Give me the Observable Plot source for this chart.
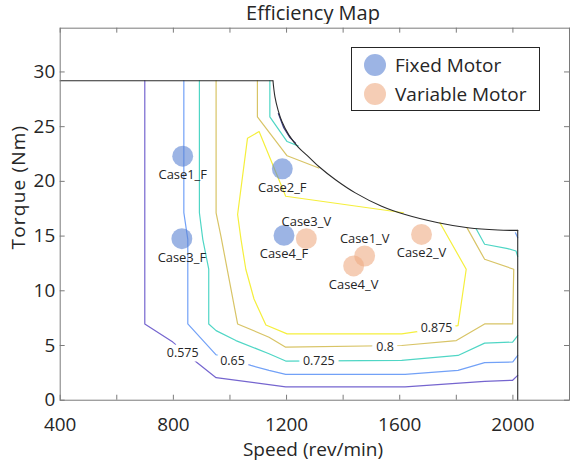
<!DOCTYPE html>
<html><head><meta charset="utf-8">
<script src="https://cdn.jsdelivr.net/npm/d3@7"></script>
<script src="https://cdn.jsdelivr.net/npm/@observablehq/plot@0.6"></script>
<style>
html,body{margin:0;padding:0;background:#fff;overflow:hidden;}
body{font-family:"Open Sans",sans-serif;color:#262626;}
#wrap{position:relative;width:571px;height:461px;overflow:hidden;}
#title{height:24px;line-height:26px;text-align:center;width:626px;font-size:20px;white-space:nowrap;}
#chart{position:relative;}
#xlabel{position:absolute;left:213px;width:200px;top:440px;text-align:center;font-size:19px;line-height:18px;white-space:nowrap;}
#ylabel{position:absolute;left:-82px;top:176px;width:200px;text-align:center;font-size:19px;line-height:22px;letter-spacing:1.2px;transform:rotate(-90deg);white-space:nowrap;}
#legend{position:absolute;left:351px;top:47px;width:187px;height:62px;border:1px solid #262626;background:#fff;}
#legend .dot{position:absolute;left:12px;width:22px;height:22px;border-radius:50%;}
#legend .lab{position:absolute;left:43px;font-size:19px;line-height:22px;white-space:nowrap;}
</style></head>
<body>
<div id="wrap">
<div id="title">Efficiency Map</div>
<div id="chart"></div>
<div id="xlabel">Speed (rev/min)</div>
<div id="ylabel">Torque (Nm)</div>
<div id="legend"></div>
</div>
<script>
// ---- tick values ----
const xTicks = [400, 600, 800, 1000, 1200, 1400, 1600, 1800, 2000, 2200];
const xTickLabels = [400, 800, 1200, 1600, 2000];
const yTicks = [0, 5, 10, 15, 20, 25, 30];

// ---- operating envelope (speed rev/min, torque Nm) ----
const envelopeTop = [[400, 29.2], [1152, 29.2]];
const envelopeArc = [[1152, 29.2], [1159, 27.73], [1170, 26.52], [1184, 25.45], [1208, 24.25], [1241, 23.13], [1279, 22.22], [1314, 21.36], [1373, 20.15], [1443, 18.95], [1536, 17.73], [1619, 16.97], [1736, 16.22], [1841, 15.76], [1947, 15.55], [2017, 15.52]];
const envelopeRight = [[2017, 15.52], [2017, 0]];

// ---- efficiency contours ----
const contourLevels = [0.5, 0.575, 0.65, 0.725, 0.8, 0.875];
const contour500 = [[1171, 26.2], [1190, 24.9], [1212, 24.0], [1232, 23.5]];
const contour575 = [[699, 29.2], [699, 6.97], [798, 5.31], [881, 3.49], [951, 2.06], [1197, 1.22], [1619, 1.22], [1900, 1.73], [1999, 1.82], [2017, 2.27]];
const contour650 = [[837, 29.2], [837, 17.15], [851, 14.7], [851, 6.97], [951, 4.15], [1074, 3.18], [1138, 2.73], [1197, 2.36], [1619, 2.36], [1806, 2.73], [1900, 3.43], [1999, 3.49], [2017, 4.09]];
const contour650b = [[2009, 15.3], [2017, 14.85]];
const contour725 = [[892, 29.2], [892, 17.13], [904, 14.7], [925, 11.97], [925, 6.97], [951, 6.36], [1021, 5.45], [1138, 4.25], [1197, 3.58], [1607, 3.64], [1806, 4.09], [1900, 5.22], [1999, 5.31], [2017, 5.91]];
const contour725b = [[1141, 29.2], [1141, 25.9], [1202, 23.64], [1241, 23.24]];
const contour725c = [[1870, 15.67], [1900, 14.25], [1982, 13.85], [2011, 13.64], [2017, 13.13]];
const contour800 = [[951, 29.2], [951, 17.13], [968, 15.0], [1027, 6.97], [1138, 5.76], [1197, 4.85], [1607, 5.0], [1800, 5.45], [1900, 6.97], [1999, 6.97], [2003, 11.97], [1900, 12.88], [1838, 15.75]];
const contour800b = [[1097, 29.2], [1097, 25.9], [1202, 22.34], [1314, 21.22]];
const contour875 = [[1613, 17.13], [1197, 18.64], [1103, 24.55], [1062, 23.95], [1027, 16.97], [1039, 14.7], [1056, 11.97], [1085, 9.25], [1127, 6.88], [1202, 6.06], [1607, 6.06], [1806, 6.82], [1835, 11.97], [1742, 16.22]];

// ---- contour labels ----
const labelLevels = [0.575, 0.65, 0.725, 0.8, 0.875];
const labelSpeed = [833, 1009, 1314, 1548, 1730];
const labelTorque = [4.31, 3.55, 3.55, 4.85, 6.58];

// ---- test cases ----
const fixedCases = ["Case1_F", "Case2_F", "Case3_F", "Case4_F"];
const fixedSpeed = [833, 1185, 830, 1191];
const fixedTorque = [22.3, 21.15, 14.76, 15.06];
const variableCases = ["Case1_V", "Case2_V", "Case3_V", "Case4_V"];
const variableSpeed = [1476, 1677, 1270, 1437];
const variableTorque = [13.18, 15.15, 14.76, 12.27];

const seriesNames = ["Fixed Motor", "Variable Motor"];

// ---- build tables ----
const contourSets = [
  [0.5, "a", contour500], [0.575, "b", contour575], [0.65, "c", contour650], [0.65, "d", contour650b],
  [0.725, "e", contour725], [0.725, "f", contour725b], [0.725, "g", contour725c],
  [0.8, "h", contour800], [0.8, "i", contour800b], [0.875, "j", contour875]
];
const contourRows = contourSets.flatMap(([level, seg, pts]) => pts.map(([s, t]) => ({level, seg, speed: s, torque: t})));
const toRows = a => a.map(([s, t]) => ({speed: s, torque: t}));
const labelRows = labelLevels.map((l, i) => ({level: l, speed: labelSpeed[i], torque: labelTorque[i]}));
const caseRows = [
  ...fixedCases.map((n, i) => ({name: n, group: seriesNames[0], speed: fixedSpeed[i], torque: fixedTorque[i]})),
  ...variableCases.map((n, i) => ({name: n, group: seriesNames[1], speed: variableSpeed[i], torque: variableTorque[i]}))
];
const aboveSet = new Set(["Case3_V", "Case1_V"]);

const W = 574, Hsvg = 437, mL = 60, mR = 2, mT = 3.7, mB = 59.3;
const innerH = Hsvg - mT - mB, innerW = W - mL - mR;
const axisCol = "#7a7a7a";
const levelColors = ["#3c3f8c", "#7565cf", "#72a1f7", "#4fd6c5", "#d8c466", "#f5ef3c"];
const groupColors = ["#5a82d2", "#eeac83"];

const chart = Plot.plot({
  width: W, height: Hsvg,
  marginLeft: mL, marginRight: mR, marginTop: mT, marginBottom: mB,
  style: {fontFamily: "'Open Sans', sans-serif", color: "#262626", background: "white", overflow: "visible"},
  x: {domain: [400, 2200]},
  y: {domain: [0, 34]},
  color: {type: "ordinal", domain: contourLevels, range: levelColors},
  marks: [
    Plot.line(contourRows, {x: "speed", y: "torque", z: "seg", stroke: d => d.level, strokeWidth: 1.2}),
    Plot.line(toRows(envelopeTop), {x: "speed", y: "torque", stroke: "#2b2b2b", strokeWidth: 1.1}),
    Plot.line(toRows(envelopeArc), {x: "speed", y: "torque", stroke: "#2b2b2b", strokeWidth: 1.1, curve: "catmull-rom"}),
    Plot.line(toRows(envelopeRight), {x: "speed", y: "torque", stroke: "#2b2b2b", strokeWidth: 1.1}),
    Plot.text(labelRows, {x: "speed", y: "torque", text: d => String(d.level), fontSize: 12.5, fill: "#262626", stroke: "white", strokeWidth: 9}),
    Plot.dot(caseRows, {x: "speed", y: "torque", r: 10.5, fill: d => groupColors[seriesNames.indexOf(d.group)], fillOpacity: 0.6, stroke: "none"}),
    Plot.text(caseRows.filter(d => !aboveSet.has(d.name)), {x: "speed", y: "torque", text: "name", dy: 19, fontSize: 13, fill: "#262626"}),
    Plot.text(caseRows.filter(d => aboveSet.has(d.name)), {x: "speed", y: "torque", text: "name", dy: -17, fontSize: 13, fill: "#262626"}),
    Plot.frame({stroke: axisCol}),
    Plot.tickX(xTicks, {x: d => d, insetTop: innerH - 5, stroke: axisCol}),
    Plot.tickX(xTicks, {x: d => d, insetBottom: innerH - 5, stroke: axisCol}),
    Plot.tickY(yTicks, {y: d => d, insetRight: innerW - 5, stroke: axisCol}),
    Plot.tickY(yTicks, {y: d => d, insetLeft: innerW - 5, stroke: axisCol}),
    Plot.axisX({ticks: xTickLabels, tickSize: 0, tickPadding: 17, fontSize: 19, label: null, tickFormat: d => String(d)}),
    Plot.axisY({ticks: yTicks, tickSize: 0, tickPadding: 5, fontSize: 19, label: null, tickFormat: d => String(d)})
  ]
});
document.getElementById("chart").appendChild(chart);

// legend
const legend = document.getElementById("legend");
seriesNames.forEach((n, i) => {
  const top = 6 + i * 29;
  const dot = document.createElement("div");
  dot.className = "dot";
  dot.style.top = top + "px";
  dot.style.background = groupColors[i];
  dot.style.opacity = 0.6;
  legend.appendChild(dot);
  const lab = document.createElement("div");
  lab.className = "lab";
  lab.style.top = top + "px";
  lab.textContent = n;
  legend.appendChild(lab);
});
</script>
</body></html>
